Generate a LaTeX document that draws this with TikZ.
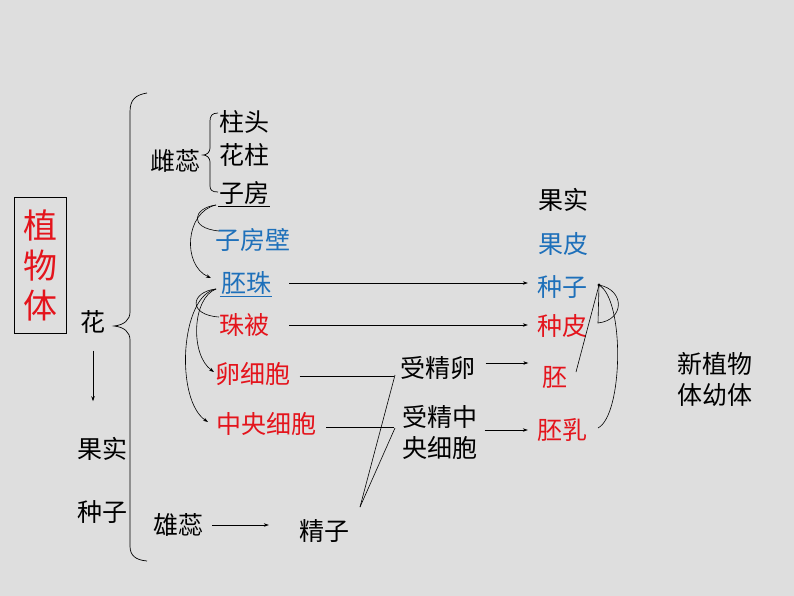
\documentclass[tikz,border=0pt]{standalone}
\usepackage{fontspec}
\setmainfont{Noto Sans CJK SC}
\usetikzlibrary{arrows.meta}
\definecolor{bgc}{RGB}{222,222,222}
\definecolor{tred}{RGB}{228,20,28}
\definecolor{tblue}{RGB}{30,112,186}
\tikzset{
  t/.style={inner sep=1pt, font=\fontsize{25}{31}\selectfont, align=center},
  rt/.style={t, text=tred},
  bt/.style={t, text=tblue},
  arr/.style={line width=0.6pt, -{Stealth[length=5pt,width=3.5pt]}},
  ln/.style={line width=0.6pt},
  br/.style={line width=0.7pt},
}
\begin{document}
\begin{tikzpicture}[x=1pt,y=-1pt]
\useasboundingbox (0,0) rectangle (794,596);
\fill[bgc] (0,0) rectangle (794,596);

% title box
\node[draw, line width=0.8pt, minimum width=52pt, minimum height=136pt, inner sep=0pt,
      text=tred, align=center, font=\fontsize{34}{40}\selectfont] (zwt) at (40,265) {植\\物\\体};

% left column
\node[t] (hua) at (93,322) {花};
\node[t] (gs1) at (102,449) {果实};
\node[t] (zz1) at (102,512) {种子};
\node[t] (cr) at (175,161) {雌蕊};
\node[t] (xr) at (178,525) {雄蕊};

% pistil parts
\node[t] (zt) at (244,122) {柱头};
\node[t] (hz) at (244,155) {花柱};
\node[t] (zf) at (244,193) {子房};
\node[bt] (zfb) at (253,240) {子房壁};
\node[bt] (pz) at (246,283) {胚珠};
\node[rt] (zb) at (244,325) {珠被};
\node[rt] (lxb) at (253,374) {卵细胞};
\node[rt] (zyxb) at (266,424) {中央细胞};

% middle
\node[t] (jz) at (324,531) {精子};
\node[t] (sjl) at (438,368) {受精卵};
\node[t] (sjz) at (440,432) {受精中\\央细胞};

% right column
\node[t] (gs2) at (563,200) {果实};
\node[bt] (gp) at (563,244) {果皮};
\node[bt] (zz2) at (562,287) {种子};
\node[rt] (zp) at (562,326) {种皮};
\node[rt] (pei) at (555,377) {胚};
\node[rt] (pr) at (562,430) {胚乳};
\node[t] (xzw) at (715,379) {新植物\\体幼体};

% underlines
\draw[line width=0.8pt] ([yshift=-4pt]zf.base west) -- ([yshift=-4pt]zf.base east);
\draw[line width=0.8pt, tblue] ([yshift=-4pt]pz.base west) -- ([yshift=-4pt]pz.base east);

% braces
\draw[br] (147,93) .. controls (135,95) and (130,100) .. (130,112) -- (130,312)
  .. controls (130,320) and (124,325) .. (114,326)
  .. controls (124,327) and (130,332) .. (130,340) -- (130,546)
  .. controls (130,555) and (135,560) .. (147,561);
\draw[br] (218,113) .. controls (212,113) and (210,116) .. (210,121) -- (210,148)
  .. controls (210,152) and (207,155) .. (203,155)
  .. controls (207,155) and (210,158) .. (210,162) -- (210,186)
  .. controls (210,190) and (212,192) .. (218,192);

% flower -> fruit
\draw[arr, shorten <=16pt, shorten >=35pt] (hua.south) -- (hua.south |- gs1.north);

% horizontal connectors
\draw[arr, shorten <=17pt, shorten >=8pt] (pz.east) -- (zz2.west |- pz.east);
\draw[arr, shorten <=19pt, shorten >=8pt] (zb.east) -- (zp.west |- zb.east);
\draw[ln, shorten <=8pt, shorten >=5pt] ([yshift=-2pt]lxb.east) -- ([yshift=-2pt]sjl.west |- lxb.east);
\draw[arr, shorten <=9pt, shorten >=13pt] ([yshift=5pt]sjl.east) -- ([yshift=5pt]pei.west |- sjl.east);
\draw[ln, shorten <=9pt, shorten >=7pt] ([yshift=-3pt]zyxb.east) -- ([yshift=-3pt]sjz.west |- zyxb.east);
\draw[arr, shorten <=6pt, shorten >=8pt] (sjz.east |- pr.west) -- (pr.west);
\draw[arr, shorten <=8pt, shorten >=29pt] (xr.east) -- (jz.west |- xr.east);

% sperm lines
\coordinate (jt) at (360,507);
\coordinate (m1) at (395,375);
\coordinate (m2) at (395,428);
\draw[ln] (jt) -- (m1);
\draw[ln] (jt) -- (m2);

% left curved connectors
\coordinate (zfL) at (216,205);
\coordinate (pzL) at (216,289);
\draw[ln] (zfL) .. controls (193,208) and (188,228) .. (219,231);
\draw[arr] (zfL) .. controls (185,212) and (182,265) .. (211,278);
\draw[ln] (pzL) .. controls (190,292) and (188,315) .. (219,317);
\draw[arr] (pzL) .. controls (192,298) and (190,355) .. (214,372);
\draw[arr] (pzL) .. controls (180,296) and (175,400) .. (208,422);

% right curves
\coordinate (dot) at (599,285);
\fill (dot) circle (1.6pt);
\draw[ln] (576,372) -- (dot);
\draw[ln] (dot) -- (598,323) .. controls (625,320) and (625,290) .. (dot);
\draw[ln] (598,428) .. controls (623,415) and (625,300) .. (dot);
\end{tikzpicture}
\end{document}
